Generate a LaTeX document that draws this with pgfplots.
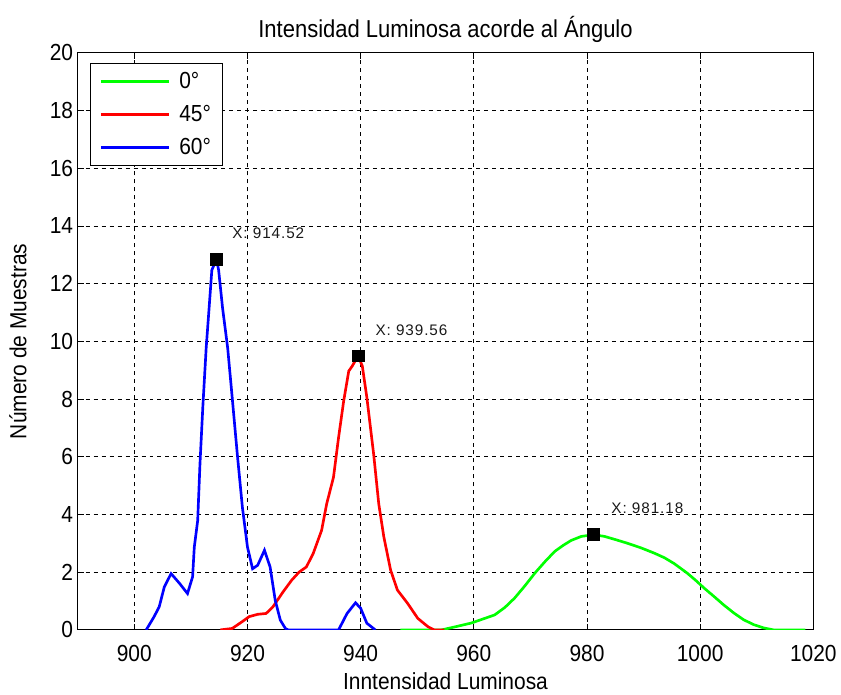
\documentclass[border=0pt]{standalone}
\usepackage{fontspec}
\setmainfont{Liberation Sans}[FakeStretch=0.9]
\newfontfamily\tipfont{Liberation Sans}[LetterSpace=6]
\usepackage{pgfplots}
\pgfplotsset{compat=1.18}

\pgfplotstableread{
x y
902.1 0
903.5 0.46
904.4 0.8
905.3 1.49
906.5 1.95
908.0 1.61
909.4 1.26
910.3 1.84
910.6 2.87
911.2 3.79
911.6 5.74
912.1 7.7
912.7 9.77
913.3 11.38
913.7 12.47
914.52 12.85
914.9 12.47
915.6 11.15
916.5 9.77
917.3 8.05
918.2 6.09
919.1 4.25
920.0 2.87
920.9 2.12
921.8 2.24
923.0 2.76
924.0 2.18
924.9 1.03
925.8 0.34
926.7 0.05
927.2 0
936.1 0
937.6 0.57
939.1 0.94
940.0 0.75
941.1 0.23
942.6 0
}\sixty

\pgfplotstableread{
x y
915.2 0
917.3 0.05
919.1 0.29
920.3 0.46
921.8 0.54
923.3 0.57
924.5 0.8
926.3 1.32
927.8 1.72
929.1 2.0
930.4 2.18
931.6 2.64
933.1 3.45
934.0 4.37
935.2 5.29
936.1 6.67
937.0 7.93
937.9 8.97
938.5 9.14
939.56 9.5
940.3 9.14
941.1 8.05
942.3 6.09
943.2 4.37
944.1 3.22
945.3 2.07
946.5 1.38
948.3 0.92
950.1 0.4
951.9 0.11
953.0 0
954.8 0
}\fortyfive

\pgfplotstableread{
x y
947.0 0
954.3 0
957.0 0.12
959.6 0.24
963.7 0.52
965.5 0.78
967.2 1.1
969.0 1.52
970.8 1.97
972.6 2.37
974.3 2.72
975.8 2.93
977.2 3.1
979.0 3.24
981.18 3.3
983.1 3.24
985.2 3.12
987.2 3.0
989.6 2.84
991.9 2.66
993.7 2.5
995.4 2.3
997.7 1.97
999.2 1.72
1000.7 1.45
1002.5 1.15
1004.2 0.86
1006.0 0.58
1007.7 0.35
1009.5 0.18
1011.2 0.07
1013.0 0
1018.6 0
}\zero

\begin{document}
\begin{tikzpicture}
\begin{axis}[
  scale only axis,
  width=553.5pt, height=434.25pt,
  xmin=890, xmax=1020, ymin=0, ymax=20,
  xtick={900,920,...,1020},
  ytick={0,2,...,20},
  grid=major,
  major grid style={black, dash pattern=on 3pt off 3pt, line width=0.6pt},
  tick align=inside,
  major tick length=4.5pt,
  tick style={black, line width=0.6pt},
  axis line style={black, line width=0.7pt},
  /pgf/number format/assume math mode=true,
  /pgf/number format/1000 sep={},
  tick label style={font=\fontsize{17.5}{20}\selectfont},
  xticklabel style={yshift=-8pt},
  title={Intensidad Luminosa acorde al Ángulo},
  title style={font=\fontsize{18.4}{21}\selectfont, at={(axis description cs:0.5,1.012)}, anchor=base},
  xlabel={Inntensidad Luminosa},
  xlabel style={font=\fontsize{17.5}{20}\selectfont, at={(axis description cs:0.5,-0.1036)}, anchor=base},
  ylabel={Número de Muestras},
  ylabel style={font=\fontsize{17.5}{20}\selectfont, at={(axis description cs:-0.0813,0.5)}, anchor=center},
  legend style={at={(0,1)}, anchor=north west, xshift=9pt, yshift=-7.5pt,
    draw=black, line width=0.8pt, font=\fontsize{17.5}{20}\selectfont,
    row sep=7pt, inner xsep=7pt, inner ysep=5pt,
    nodes={inner sep=2pt},
    /tikz/every odd column/.append style={column sep=5pt}},
  legend cell align=left,
  legend image code/.code={\draw[#1, line width=2pt] (0pt,0pt) -- (51pt,0pt);},
]
\addplot[color={rgb,255:red,0;green,255;blue,0}, line width=2pt] table[x=x,y=y] {\zero};
\addlegendentry{0°}
\addplot[color={rgb,255:red,255;green,0;blue,0}, line width=2pt] table[x=x,y=y] {\fortyfive};
\addlegendentry{45°}
\addplot[color={rgb,255:red,0;green,0;blue,255}, line width=2pt] table[x=x,y=y] {\sixty};
\addlegendentry{60°}
\addplot[only marks, mark=square*, mark size=4.5pt, black, forget plot] coordinates {(914.52,12.85) (939.56,9.5) (981.18,3.3)};
\node[anchor=base west, font=\tipfont\fontsize{11.5}{13}\selectfont, text=black!90] at (axis cs:916.5,13.55) {X: 914.52};
\node[anchor=base west, font=\tipfont\fontsize{11.5}{13}\selectfont, text=black!90] at (axis cs:941.8,10.22) {X: 939.56};
\node[anchor=base west, font=\tipfont\fontsize{11.5}{13}\selectfont, text=black!90] at (axis cs:983.5,4.04) {X: 981.18};
\end{axis}
\path (current axis.south west) ++(-58.5pt,-44.25pt);
\path (current axis.north east) ++(18.75pt,39.75pt);
\end{tikzpicture}
\end{document}
